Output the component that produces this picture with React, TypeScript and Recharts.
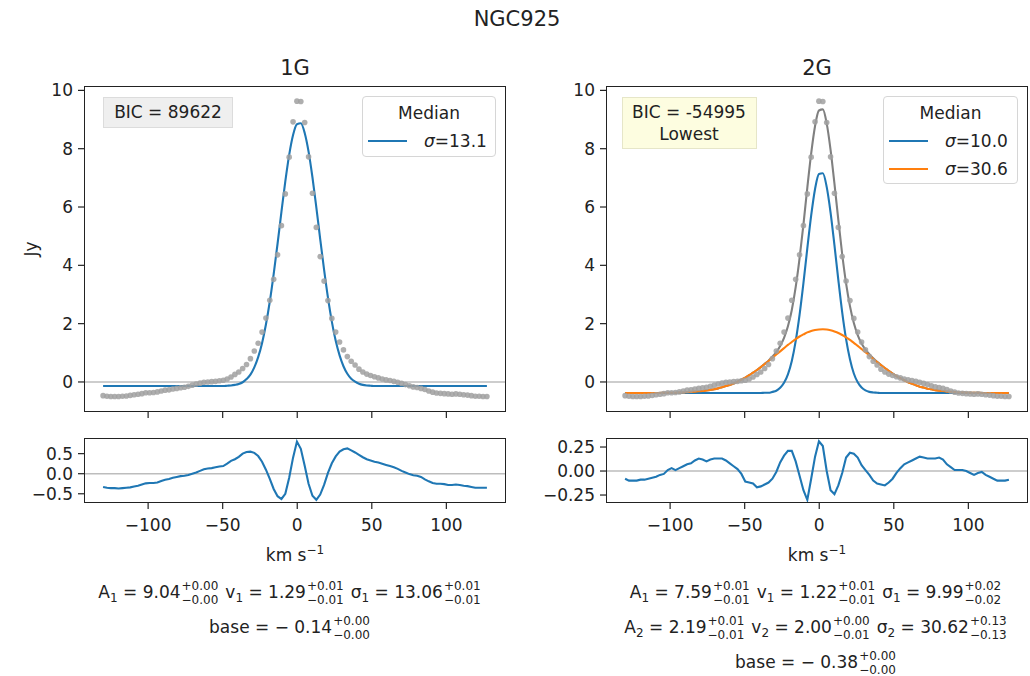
import React from 'react';
import { ComposedChart, Line, XAxis, YAxis, ReferenceLine } from 'recharts';

// channel velocities (km/s)
const velocity = [
  -130.2, -127.6, -125.0, -122.4, -119.8, -117.2, -114.6, -112.0, -109.4, -106.8,
  -104.2, -101.6, -99.0, -96.4, -93.8, -91.2, -88.6, -86.0, -83.4, -80.8,
  -78.2, -75.6, -73.0, -70.4, -67.8, -65.2, -62.6, -60.0, -57.4, -54.8,
  -52.2, -49.6, -47.0, -44.4, -41.8, -39.2, -36.6, -34.0, -31.4, -28.8,
  -26.2, -23.6, -21.0, -18.4, -15.8, -13.2, -10.6, -8.0, -5.4, -2.8,
  -0.2, 2.4, 5.0, 7.6, 10.2, 12.8, 15.4, 18.0, 20.6, 23.2,
  25.8, 28.4, 31.0, 33.6, 36.2, 38.8, 41.4, 44.0, 46.6, 49.2,
  51.8, 54.4, 57.0, 59.6, 62.2, 64.8, 67.4, 70.0, 72.6, 75.2,
  77.8, 80.4, 83.0, 85.6, 88.2, 90.8, 93.4, 96.0, 98.6, 101.2,
  103.8, 106.4, 109.0, 111.6, 114.2, 116.8, 119.4, 122.0, 124.6, 127.2,
];

// observed spectrum (Jy)
const flux = [
  -0.47, -0.49, -0.50, -0.50, -0.50, -0.49, -0.48, -0.46, -0.44, -0.42,
  -0.40, -0.37, -0.37, -0.36, -0.34, -0.31, -0.28, -0.27, -0.24, -0.22,
  -0.20, -0.18, -0.15, -0.11, -0.07, -0.04, -0.01, 0.00, 0.01, 0.02,
  0.04, 0.06, 0.10, 0.17, 0.26, 0.34, 0.46, 0.60, 0.80, 1.06,
  1.33, 1.71, 2.19, 2.80, 3.52, 4.36, 5.36, 6.45, 7.71, 8.92,
  9.63, 9.62, 8.90, 7.72, 6.47, 5.30, 4.30, 3.46, 2.79, 2.18,
  1.71, 1.37, 1.10, 0.87, 0.71, 0.58, 0.44, 0.34, 0.27, 0.22,
  0.18, 0.14, 0.10, 0.07, 0.05, 0.02, -0.01, -0.05, -0.09, -0.13,
  -0.17, -0.19, -0.22, -0.26, -0.31, -0.35, -0.38, -0.39, -0.40, -0.41,
  -0.42, -0.41, -0.42, -0.44, -0.45, -0.47, -0.49, -0.49, -0.50, -0.50,
];

// 1G model
const fit1G = [
  -0.14, -0.14, -0.14, -0.14, -0.14, -0.14, -0.14, -0.14, -0.14, -0.14,
  -0.14, -0.14, -0.14, -0.14, -0.14, -0.14, -0.14, -0.14, -0.14, -0.14,
  -0.14, -0.14, -0.14, -0.14, -0.14, -0.14, -0.14, -0.14, -0.14, -0.14,
  -0.14, -0.14, -0.13, -0.12, -0.10, -0.07, -0.01, 0.10, 0.25, 0.50,
  0.85, 1.33, 1.97, 2.76, 3.70, 4.74, 5.83, 6.88, 7.79, 8.47,
  8.84, 8.87, 8.54, 7.90, 7.02, 5.99, 4.90, 3.85, 2.89, 2.07,
  1.41, 0.91, 0.54, 0.28, 0.11, 0.01, -0.06, -0.10, -0.12, -0.13,
  -0.14, -0.14, -0.14, -0.14, -0.14, -0.14, -0.14, -0.14, -0.14, -0.14,
  -0.14, -0.14, -0.14, -0.14, -0.14, -0.14, -0.14, -0.14, -0.14, -0.14,
  -0.14, -0.14, -0.14, -0.14, -0.14, -0.14, -0.14, -0.14, -0.14, -0.14,
];

const resid1G = [
  -0.33, -0.35, -0.36, -0.36, -0.37, -0.36, -0.35, -0.34, -0.32, -0.30,
  -0.27, -0.24, -0.23, -0.23, -0.22, -0.18, -0.15, -0.13, -0.10, -0.08,
  -0.06, -0.05, -0.03, 0.00, 0.03, 0.07, 0.11, 0.13, 0.14, 0.16,
  0.18, 0.19, 0.25, 0.32, 0.36, 0.42, 0.50, 0.54, 0.55, 0.52,
  0.44, 0.30, 0.10, -0.13, -0.38, -0.56, -0.63, -0.50, -0.10, 0.40,
  0.80, 0.62, 0.20, -0.25, -0.55, -0.65, -0.52, -0.28, 0.02, 0.26,
  0.43, 0.55, 0.61, 0.63, 0.58, 0.53, 0.47, 0.41, 0.36, 0.33,
  0.30, 0.28, 0.25, 0.22, 0.19, 0.16, 0.12, 0.07, 0.03, -0.01,
  -0.04, -0.05, -0.08, -0.14, -0.19, -0.23, -0.25, -0.25, -0.26, -0.28,
  -0.28, -0.27, -0.28, -0.30, -0.31, -0.33, -0.35, -0.35, -0.35, -0.35,
];

// 2G model: total, narrow and broad components
const fit2GTotal = [
  -0.38, -0.38, -0.38, -0.38, -0.38, -0.38, -0.38, -0.38, -0.38, -0.38,
  -0.37, -0.37, -0.37, -0.37, -0.36, -0.36, -0.35, -0.34, -0.33, -0.32,
  -0.31, -0.29, -0.27, -0.25, -0.22, -0.18, -0.14, -0.10, -0.05, 0.01,
  0.08, 0.15, 0.23, 0.32, 0.41, 0.51, 0.62, 0.73, 0.87, 1.02,
  1.23, 1.51, 1.91, 2.47, 3.25, 4.24, 5.40, 6.66, 7.84, 8.78,
  9.31, 9.35, 8.87, 7.96, 6.80, 5.56, 4.38, 3.38, 2.60, 2.02,
  1.61, 1.32, 1.11, 0.95, 0.81, 0.69, 0.58, 0.48, 0.38, 0.29,
  0.20, 0.13, 0.06, -0.01, -0.06, -0.11, -0.16, -0.19, -0.23, -0.25,
  -0.28, -0.30, -0.31, -0.33, -0.34, -0.35, -0.36, -0.36, -0.37, -0.37,
  -0.37, -0.37, -0.38, -0.38, -0.38, -0.38, -0.38, -0.38, -0.38, -0.38,
];

const fit2GNarrow = [
  -0.38, -0.38, -0.38, -0.38, -0.38, -0.38, -0.38, -0.38, -0.38, -0.38,
  -0.38, -0.38, -0.38, -0.38, -0.38, -0.38, -0.38, -0.38, -0.38, -0.38,
  -0.38, -0.38, -0.38, -0.38, -0.38, -0.38, -0.38, -0.38, -0.38, -0.38,
  -0.38, -0.38, -0.38, -0.38, -0.38, -0.38, -0.37, -0.37, -0.34, -0.30,
  -0.20, -0.03, 0.26, 0.72, 1.40, 2.30, 3.39, 4.58, 5.71, 6.62,
  7.13, 7.16, 6.69, 5.81, 4.69, 3.50, 2.39, 1.47, 0.78, 0.29,
  -0.01, -0.19, -0.29, -0.34, -0.36, -0.37, -0.38, -0.38, -0.38, -0.38,
  -0.38, -0.38, -0.38, -0.38, -0.38, -0.38, -0.38, -0.38, -0.38, -0.38,
  -0.38, -0.38, -0.38, -0.38, -0.38, -0.38, -0.38, -0.38, -0.38, -0.38,
  -0.38, -0.38, -0.38, -0.38, -0.38, -0.38, -0.38, -0.38, -0.38, -0.38,
];

const fit2GBroad = [
  -0.38, -0.38, -0.38, -0.38, -0.38, -0.38, -0.38, -0.38, -0.38, -0.38,
  -0.37, -0.37, -0.37, -0.37, -0.36, -0.36, -0.35, -0.34, -0.33, -0.32,
  -0.31, -0.29, -0.27, -0.25, -0.22, -0.18, -0.14, -0.10, -0.05, 0.01,
  0.08, 0.15, 0.23, 0.32, 0.41, 0.51, 0.61, 0.72, 0.83, 0.94,
  1.05, 1.16, 1.27, 1.37, 1.47, 1.56, 1.63, 1.70, 1.75, 1.78,
  1.80, 1.81, 1.80, 1.77, 1.73, 1.68, 1.61, 1.53, 1.44, 1.34,
  1.24, 1.13, 1.02, 0.91, 0.79, 0.68, 0.58, 0.48, 0.38, 0.29,
  0.20, 0.13, 0.06, -0.01, -0.06, -0.11, -0.16, -0.19, -0.23, -0.25,
  -0.28, -0.30, -0.31, -0.33, -0.34, -0.35, -0.36, -0.36, -0.37, -0.37,
  -0.37, -0.37, -0.38, -0.38, -0.38, -0.38, -0.38, -0.38, -0.38, -0.38,
];

const resid2G = [
  -0.08, -0.10, -0.10, -0.10, -0.09, -0.09, -0.08, -0.07, -0.06, -0.04,
  -0.03, 0.01, 0.03, 0.01, 0.03, 0.05, 0.07, 0.08, 0.11, 0.13,
  0.12, 0.10, 0.12, 0.13, 0.13, 0.13, 0.11, 0.08, 0.05, 0.02,
  -0.03, -0.11, -0.12, -0.13, -0.17, -0.16, -0.14, -0.12, -0.08, -0.01,
  0.09, 0.16, 0.21, 0.21, 0.10, -0.05, -0.20, -0.30, -0.08, 0.15,
  0.31, 0.26, 0.00, -0.20, -0.24, -0.15, -0.02, 0.14, 0.19, 0.18,
  0.14, 0.06, 0.01, -0.04, -0.10, -0.13, -0.14, -0.15, -0.12, -0.08,
  -0.02, 0.03, 0.07, 0.09, 0.11, 0.13, 0.15, 0.14, 0.13, 0.13,
  0.13, 0.14, 0.12, 0.07, 0.04, 0.01, 0.01, 0.01, 0.00, -0.02,
  -0.04, -0.02, -0.01, -0.04, -0.06, -0.08, -0.10, -0.10, -0.10, -0.09,
];

const velTicks = [-100, -50, 0, 50, 100];
const fluxTicks = [0, 2, 4, 6, 8, 10];
const resid1Ticks = [-0.5, 0, 0.5];
const resid2Ticks = [-0.25, 0, 0.25];

// fit parameters shown under each column: [name, index, value, +err, -err]
const params1G = [
  [['A', '1', '9.04', '+0.00', '\u22120.00'], ['v', '1', '1.29', '+0.01', '\u22120.01'], ['\u03c3', '1', '13.06', '+0.01', '\u22120.01']],
];
const params2G = [
  [['A', '1', '7.59', '+0.01', '\u22120.01'], ['v', '1', '1.22', '+0.01', '\u22120.01'], ['\u03c3', '1', '9.99', '+0.02', '\u22120.02']],
  [['A', '2', '2.19', '+0.01', '\u22120.01'], ['v', '2', '2.00', '+0.00', '\u22120.01'], ['\u03c3', '2', '30.62', '+0.13', '\u22120.13']],
];
const base1G = ['\u2212 0.14', '+0.00', '\u22120.00'];
const base2G = ['\u2212 0.38', '+0.00', '\u22120.00'];

const rows = velocity.map((v, i) => ({
  v,
  flux: flux[i],
  fit1: fit1G[i],
  res1: resid1G[i],
  tot2: fit2GTotal[i],
  nar2: fit2GNarrow[i],
  bro2: fit2GBroad[i],
  res2: resid2G[i],
}));

const FONT = '"DejaVu Sans", Verdana, sans-serif';
const INK = '#222';
const BLUE = '#1f77b4';
const ORANGE = '#ff7f0e';
const X_DOMAIN: [number, number] = [-143, 140];

const fmtMinus = (d: number, digits: number) => d.toFixed(digits).replace('-', '\u2212');

const Txt = ({ x, y, size = 17, children, rotate = 0 }: any) => (
  <div
    style={{
      position: 'absolute',
      left: x,
      top: y,
      transform: `translate(-50%, -50%) rotate(${rotate}deg)`,
      fontSize: size,
      fontFamily: FONT,
      color: INK,
      whiteSpace: 'nowrap',
      lineHeight: 1,
    }}
  >
    {children}
  </div>
);

interface PanelProps {
  x: number;
  y: number;
  w: number;
  h: number;
  yDomain: [number, number];
  yTicks: number[];
  yDigits: number;
  showX: boolean;
  children: React.ReactNode;
}

const Panel = ({ x, y, w, h, yDomain, yTicks, yDigits, showX, children }: PanelProps) => {
  const yw = 80;
  const padTop = 8;
  const padRight = 2;
  const xh = showX ? 40 : 12;
  const tickStyle = { fill: INK, fontSize: 17, fontFamily: FONT };
  return (
    <>
      <div style={{ position: 'absolute', left: x - yw, top: y - padTop }}>
        <ComposedChart
          width={yw + w + padRight}
          height={padTop + h + xh}
          data={rows}
          margin={{ top: padTop, right: padRight, left: 0, bottom: 0 }}
        >
          <XAxis
            dataKey='v'
            type='number'
            domain={X_DOMAIN}
            ticks={velTicks}
            interval={0}
            allowDataOverflow
            axisLine={false}
            tickLine={{ stroke: INK, strokeWidth: 1.2 }}
            tickSize={6}
            tickMargin={10}
            height={xh}
            tick={tickStyle}
            tickFormatter={(t: number) => (showX ? fmtMinus(t, 0) : '')}
          />
          <YAxis
            type='number'
            domain={yDomain}
            ticks={yTicks}
            interval={0}
            allowDataOverflow
            axisLine={false}
            tickLine={{ stroke: INK, strokeWidth: 1.2 }}
            tickSize={6}
            tickMargin={5}
            width={yw}
            tick={tickStyle}
            tickFormatter={(t: number) => fmtMinus(t, yDigits)}
          />
          <ReferenceLine y={0} stroke='#bdbdbd' strokeWidth={1.6} />
          {children}
        </ComposedChart>
      </div>
      <div
        style={{
          position: 'absolute',
          left: x,
          top: y,
          width: w,
          height: h,
          border: `1.2px solid ${INK}`,
          boxSizing: 'border-box',
          pointerEvents: 'none',
        }}
      />
    </>
  );
};

const dots = (key: string) => (
  <Line
    dataKey={key}
    stroke='none'
    dot={{ r: 2.8, fill: '#a0a0a0', fillOpacity: 0.85, stroke: 'none' }}
    activeDot={false}
    isAnimationActive={false}
  />
);

const curve = (key: string, color: string, type: any = 'monotone') => (
  <Line
    dataKey={key}
    type={type}
    stroke={color}
    strokeWidth={2.1}
    dot={false}
    activeDot={false}
    isAnimationActive={false}
  />
);

// stacked upper/lower uncertainty, like mathtext ^{+a}_{-b}
const Stack = ({ up, lo }: { up: string; lo: string }) => (
  <span
    style={{
      display: 'inline-flex',
      flexDirection: 'column',
      fontSize: 12,
      lineHeight: '14px',
      verticalAlign: 'middle',
      marginLeft: 1,
      marginRight: 7,
    }}
  >
    <span>{up}</span>
    <span>{lo}</span>
  </span>
);

const ParamLine = ({ items }: { items: string[][] }) => (
  <span>
    {items.map(([n, i, val, up, lo]) => (
      <span key={n + i}>
        {n}
        <sub style={{ fontSize: 12, lineHeight: 0 }}>{i}</sub> = {val}
        <Stack up={up} lo={lo} />
      </span>
    ))}
  </span>
);

const BaseLine = ({ b }: { b: string[] }) => (
  <span>
    base = {b[0]}
    <Stack up={b[1]} lo={b[2]} />
  </span>
);

const Legend = ({ x, y, w, h, items }: any) => (
  <div
    style={{
      position: 'absolute',
      left: x,
      top: y,
      width: w,
      height: h,
      border: '1px solid #d6d6d6',
      borderRadius: 4,
      background: 'rgba(255,255,255,0.85)',
      boxSizing: 'border-box',
      fontFamily: FONT,
      color: INK,
      fontSize: 17,
    }}
  >
    <div style={{ position: 'absolute', top: 6, width: '100%', textAlign: 'center' }}>Median</div>
    {items.map((it: any, k: number) => (
      <div key={k} style={{ position: 'absolute', left: 5, top: 34 + k * 28, height: 20, width: w - 10 }}>
        <div style={{ position: 'absolute', left: 0, top: 9, width: 39, borderTop: `2px solid ${it.color}` }} />
        <div style={{ position: 'absolute', left: 56, top: 0, lineHeight: '20px', whiteSpace: 'nowrap' }}>
          <i>{'\u03c3'}</i>={it.label}
        </div>
      </div>
    ))}
  </div>
);

export default function App() {
  return (
    <div
      style={{
        position: 'absolute',
        left: 0,
        top: 0,
        width: 1030,
        height: 676,
        background: '#fff',
        overflow: 'hidden',
        fontFamily: FONT,
      }}
    >
      <Txt x={517} y={19} size={21}>NGC925</Txt>
      <Txt x={295} y={68} size={21}>1G</Txt>
      <Txt x={817} y={68} size={21}>2G</Txt>
      <Txt x={31} y={249} rotate={-90}>Jy</Txt>

      <Panel x={84} y={86} w={422} h={326} yDomain={[-1.03, 10.15]} yTicks={fluxTicks} yDigits={0} showX={false}>
        {dots('flux')}
        {curve('fit1', BLUE)}
      </Panel>
      <Panel x={606} y={86} w={422} h={326} yDomain={[-1.03, 10.15]} yTicks={fluxTicks} yDigits={0} showX={false}>
        {dots('flux')}
        {curve('tot2', '#808080')}
        {curve('nar2', BLUE)}
        {curve('bro2', ORANGE)}
      </Panel>
      <Panel x={84} y={438} w={422} h={65} yDomain={[-0.73, 0.89]} yTicks={resid1Ticks} yDigits={1} showX>
        {curve('res1', BLUE, 'linear')}
      </Panel>
      <Panel x={606} y={438} w={422} h={65} yDomain={[-0.333, 0.344]} yTicks={resid2Ticks} yDigits={2} showX>
        {curve('res2', BLUE, 'linear')}
      </Panel>

      <div
        style={{
          position: 'absolute', left: 103, top: 97, width: 130, height: 31,
          background: '#efefef', border: '1px solid #dcdcdc', boxSizing: 'border-box',
        }}
      />
      <Txt x={168} y={112}>BIC = 89622</Txt>
      <div
        style={{
          position: 'absolute', left: 622, top: 97, width: 135, height: 52,
          background: '#fdfde0', border: '1px solid #e6e6c8', boxSizing: 'border-box',
        }}
      />
      <Txt x={689} y={112}>BIC = -54995</Txt>
      <Txt x={689} y={134}>Lowest</Txt>

      <Legend x={362} y={96} w={134} h={61} items={[{ color: BLUE, label: '13.1' }]} />
      <Legend
        x={883}
        y={96}
        w={135}
        h={88}
        items={[
          { color: BLUE, label: '10.0' },
          { color: ORANGE, label: '30.6' },
        ]}
      />

      <Txt x={295} y={555}>km s<sup style={{ fontSize: 12, lineHeight: 0 }}>{'\u22121'}</sup></Txt>
      <Txt x={817} y={555}>km s<sup style={{ fontSize: 12, lineHeight: 0 }}>{'\u22121'}</sup></Txt>

      <Txt x={293} y={593}><ParamLine items={params1G[0]} /></Txt>
      <Txt x={293} y={628}><BaseLine b={base1G} /></Txt>
      <Txt x={819} y={593}><ParamLine items={params2G[0]} /></Txt>
      <Txt x={819} y={628}><ParamLine items={params2G[1]} /></Txt>
      <Txt x={819} y={663}><BaseLine b={base2G} /></Txt>
    </div>
  );
}
